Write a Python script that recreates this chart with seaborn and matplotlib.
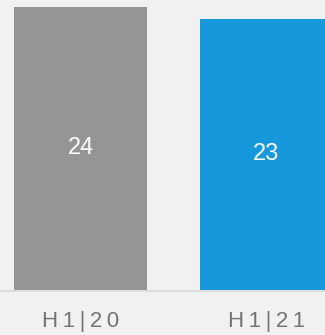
import matplotlib
matplotlib.use("Agg")
import matplotlib.pyplot as plt
import seaborn as sns
import pandas as pd

# Half-year values
periods = ["H1|20", "H1|21"]
values = [24, 23]
bar_colors = ["#959595", "#1598dc"]

sns.set_theme(style="white")
plt.rcParams["font.family"] = ["Liberation Sans", "DejaVu Sans"]

bg = "#f1f1f1"
fig = plt.figure(figsize=(3.25, 3.35), dpi=100, facecolor=bg)
ax = fig.add_axes([0.0, 44 / 335, 1.0, 291 / 335])
ax.set_facecolor(bg)

df = pd.DataFrame({"period": periods, "value": values})
sns.barplot(data=df, x="period", y="value", hue="period", palette=bar_colors,
            width=0.715, legend=False, ax=ax, saturation=1, linewidth=0)

for patch, v in zip(ax.patches, values):
    cx = patch.get_x() + patch.get_width() / 2
    ax.text(cx, v / 2 + 0.1, f"{v}", ha="center", va="center",
            color="white", fontsize=17)

ax.set_xlim(-0.433, 1.315)
ax.set_ylim(0, 24.6)
ax.set_xlabel("")
ax.set_ylabel("")
ax.set_yticks([])
ax.set_xticks(range(len(periods)))
ax.set_xticklabels(["\u2009".join(p) for p in periods], fontsize=16,
                   color="#747474")
ax.tick_params(axis="x", length=0, pad=14.5)

for side in ["top", "left", "right"]:
    ax.spines[side].set_visible(False)
ax.spines["bottom"].set_color("#dcdcdc")
ax.spines["bottom"].set_linewidth(1.5)

fig.savefig("out.png", dpi=100, facecolor=bg)
